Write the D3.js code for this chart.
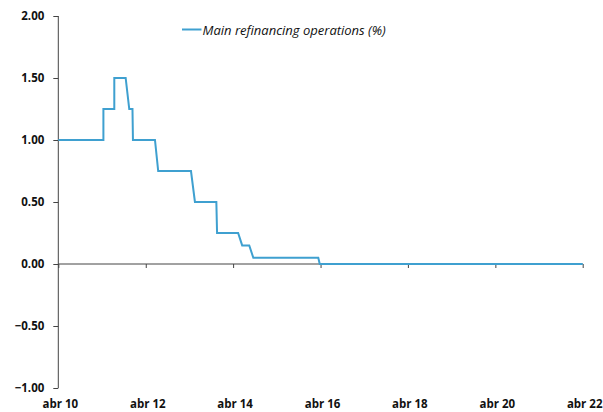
<!DOCTYPE html>
<html>
<head>
<meta charset="utf-8">
<script src="https://cdn.jsdelivr.net/npm/d3@7"></script>
<style>
  body { margin: 0; background: #fff; }
  text { font-family: "Open Sans", Lato, sans-serif; }
</style>
</head>
<body>
<svg width="603" height="412"></svg>
<script>
// points of the line (date, rate %)
var dates = ["2010-04-01", "2011-04-13", "2011-04-13", "2011-07-13", "2011-07-13",
             "2011-10-16", "2011-11-15", "2011-12-12", "2011-12-16", "2012-06-17",
             "2012-07-14", "2013-04-14", "2013-05-17", "2013-11-12", "2013-11-18",
             "2014-05-13", "2014-06-16", "2014-08-14", "2014-09-17", "2016-03-13",
             "2016-03-25", "2022-04-01"];
var mro = [1.00, 1.00, 1.25, 1.25, 1.50,
           1.50, 1.25, 1.25, 1.00, 1.00,
           0.75, 0.75, 0.50, 0.50, 0.25,
           0.25, 0.15, 0.15, 0.05, 0.05,
           0.00, 0.00];
var yTicks = [-1, -0.5, 0, 0.5, 1, 1.5, 2];
var xTickDates = ["2010-04-01", "2012-04-01", "2014-04-01", "2016-04-01", "2018-04-01", "2020-04-01", "2022-04-01"];
var xTickLabels = ["abr 10", "abr 12", "abr 14", "abr 16", "abr 18", "abr 20", "abr 22"];
var seriesName = "Main refinancing operations (%)";

var parse = d3.timeParse("%Y-%m-%d");
var svg = d3.select("svg");

var x = d3.scaleTime()
    .domain([parse("2010-04-01"), parse("2022-04-01")])
    .range([58.3, 582.7]);
var y = d3.scaleLinear().domain([-1, 2]).range([388, 16]);

// y axis
var yAxis = svg.append("g")
    .attr("transform", "translate(58.3,0)")
    .call(d3.axisLeft(y).tickValues(yTicks).tickFormat(d3.format(".2f")).tickSize(5).tickPadding(9));
yAxis.select(".domain").attr("stroke", "#444").attr("d", "M0," + y(-1) + "V" + y(2));
yAxis.selectAll(".tick line").attr("stroke", "#444");
yAxis.selectAll("text").attr("fill", "#111").style("font-size", "11.5px").style("font-weight", "bold");

// x axis at zero, labels at the bottom
var xAxis = svg.append("g")
    .attr("transform", "translate(0," + y(0) + ")")
    .call(d3.axisBottom(x).tickValues(xTickDates.map(parse)).tickSize(4).tickFormat(""));
xAxis.select(".domain").attr("stroke", "#444").attr("d", "M" + x.range()[0] + ",0H" + x.range()[1]);
xAxis.selectAll(".tick line").attr("stroke", "#444");

svg.append("g").selectAll("text")
    .data(xTickDates)
    .enter()
    .append("text")
    .attr("x", function (d) { return x(parse(d)) + 2; })
    .attr("y", 408)
    .attr("text-anchor", "middle")
    .attr("fill", "#111")
    .style("font-size", "11.5px")
    .style("font-weight", "bold")
    .text(function (d, i) { return xTickLabels[i]; });

// the line
var pts = dates.map(function (d, i) { return [parse(d), mro[i]]; });
var line = d3.line()
    .x(function (d) { return x(d[0]); })
    .y(function (d) { return y(d[1]); });
svg.append("path")
    .datum(pts)
    .attr("d", line)
    .attr("fill", "none")
    .attr("stroke", "#3FA0D0")
    .attr("stroke-width", 2);

// legend
svg.append("line")
    .attr("x1", 182).attr("x2", 201.5)
    .attr("y1", 29.5).attr("y2", 29.5)
    .attr("stroke", "#3FA0D0").attr("stroke-width", 2);
svg.append("text")
    .attr("x", 202.5).attr("y", 34.5)
    .attr("fill", "#111")
    .style("font-size", "13px")
    .style("font-style", "italic")
    .text(seriesName);
</script>
</body>
</html>
